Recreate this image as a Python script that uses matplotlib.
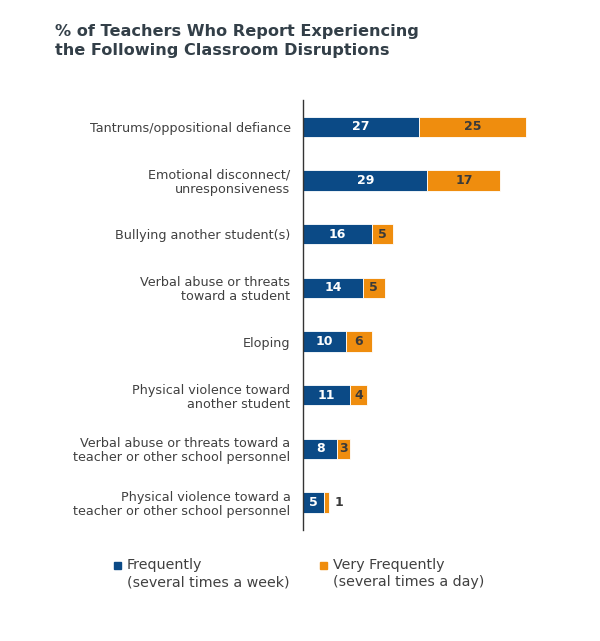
import matplotlib
matplotlib.use("Agg")
import matplotlib.pyplot as plt
from matplotlib.patches import Rectangle

categories = [
    "Tantrums/oppositional defiance",
    "Emotional disconnect/\nunresponsiveness",
    "Bullying another student(s)",
    "Verbal abuse or threats\ntoward a student",
    "Eloping",
    "Physical violence toward\nanother student",
    "Verbal abuse or threats toward a\nteacher or other school personnel",
    "Physical violence toward a\nteacher or other school personnel",
]
frequently = [27, 29, 16, 14, 10, 11, 8, 5]
very_frequently = [25, 17, 5, 5, 6, 4, 3, 1]
series_names = ["Frequently\n(several times a week)", "Very Frequently\n(several times a day)"]
title = "% of Teachers Who Report Experiencing\nthe Following Classroom Disruptions"

BLUE = "#0B4A86"
ORANGE = "#EF8D0E"
TEXT = "#404040"

plt.rcParams['font.family'] = ['DejaVu Sans']

fig = plt.figure(figsize=(6.0, 6.41), dpi=100)
ax = fig.add_axes([303/600, 1 - 529.5/641, 257.4/600, 429.6/641])

y = list(range(len(categories)))
h = 0.38
ax.barh(y, frequently, height=h, color=BLUE, edgecolor="white", linewidth=0.6)
ax.barh(y, very_frequently, left=frequently, height=h, color=ORANGE, edgecolor="white", linewidth=0.6)

for i, (f, v) in enumerate(zip(frequently, very_frequently)):
    ax.text(f / 2, i, str(f), ha="center", va="center", color="white",
            fontsize=9, fontweight="bold")
    if v >= 2:
        ax.text(f + v / 2, i, str(v), ha="center", va="center", color="#3A3A3A",
                fontsize=9, fontweight="bold")
    else:
        ax.text(f + v + 2.3, i, str(v), ha="center", va="center", color="#3A3A3A",
                fontsize=9, fontweight="bold")

ax.set_xlim(0, 60)
ax.set_ylim(len(categories) - 0.5, -0.5)
ax.set_yticks(y)
ax.set_yticklabels(categories, fontsize=9.2, color=TEXT, linespacing=1.1)
ax.tick_params(axis="y", length=0, pad=9)
ax.set_xticks([])
for s in ["top", "right", "bottom"]:
    ax.spines[s].set_visible(False)
ax.spines["left"].set_color("#333333")
ax.spines["left"].set_linewidth(1.0)

fig.text(55/600, 1 - 24/641, title, ha="left", va="top", fontsize=11.6,
         fontweight="bold", color="#333F48", linespacing=1.35)

# legend
leg_y = 1 - 565/641
for xpos, col, name in [(117, BLUE, series_names[0]), (323, ORANGE, series_names[1])]:
    fig.patches.append(Rectangle((xpos/600 - 3.5/600, leg_y - 3.5/641), 7/600, 7/641,
                                 transform=fig.transFigure, color=col, figure=fig))
    fig.text((xpos + 10)/600, leg_y + 7/641, name, ha="left", va="top",
             fontsize=10.3, color=TEXT, linespacing=1.3)

fig.savefig("out.png", dpi=100, facecolor="white")
